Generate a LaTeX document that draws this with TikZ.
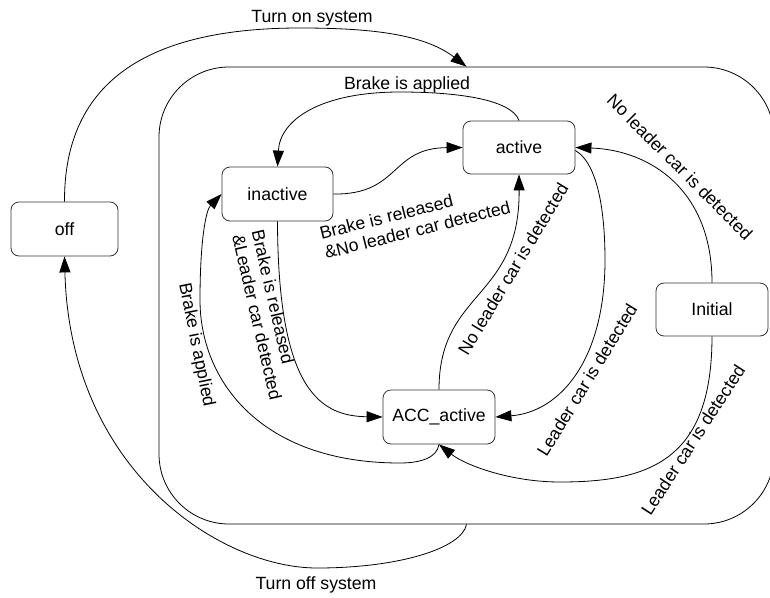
\documentclass[tikz,border=0pt]{standalone}
\usepackage{fontspec}
\setmainfont{Liberation Sans}
\usetikzlibrary{arrows.meta}
\begin{document}
\begin{tikzpicture}[x=1pt,y=1pt,
  every node/.style={font=\fontsize{17.7}{20}\selectfont},
  state/.style={draw=black!80, line width=0.8pt, rounded corners=8pt, minimum width=112pt, minimum height=54pt, inner sep=0pt},
  conn/.style={draw, line width=0.8pt, -{Triangle[length=16pt,width=11pt]}},
  lbl/.style={inner sep=0pt}]
\useasboundingbox (0,0) rectangle (770,-597);
\clip (0,0) rectangle (770,-597);
\node[draw, line width=0.8pt, rounded corners=70pt, minimum width=615pt, minimum height=457pt, inner sep=0pt] (sys) at (466.5,-295.5) {};
\node[state, minimum width=107pt] (off) at (64.5,-229) {off\hspace{21pt}};
\node[state, minimum width=111pt] (inactive) at (277.5,-194) {inactive};
\node[state, minimum height=53pt] (active) at (519,-147.5) {active};
\node[state, minimum height=53pt] (initial) at (712,-309.5) {Initial\hspace{18pt}};
\node[state] (acc) at (439,-417) {ACC\_active};

\draw[conn] (off.north) .. controls (64,-80) and (150,-28) .. (300,-28) .. controls (375,-28) and (425,-35) .. (sys.north);
\draw[conn] (sys.south) .. controls (462,-548) and (400,-568) .. (317,-568) .. controls (220,-568) and (70,-470) .. (off.south);
\draw[conn] (active.north) .. controls (512,-100) and (460,-92) .. (400,-92) .. controls (320,-92) and (280,-120) .. (inactive.north);
\draw[conn] (inactive.east) .. controls (400,-195) and (390,-148) .. (active.west);
\draw[conn] (inactive.south) .. controls (278,-390) and (320,-416) .. (acc.west);
\draw[conn] (acc.south) .. controls (437,-458) and (420,-463) .. (400,-463) .. controls (260,-463) and (200,-380) .. (200,-300) .. controls (200,-240) and (206,-210) .. (inactive.west);
\draw[conn] (acc.north) .. controls (439,-290) and (520,-300) .. (active.south);
\draw[conn] ([yshift=-3pt]active.east) .. controls (600,-165) and (605,-220) .. (605,-260) .. controls (605,-360) and (560,-412) .. (acc.east);
\draw[conn] (initial.north) .. controls (712,-190) and (650,-150) .. (active.east);
\draw[conn] (initial.south) .. controls (712,-460) and (650,-482) .. (560,-482) .. controls (510,-482) and (465,-465) .. (acc.south);

\node[lbl] (l1) at (312,-18) {Turn on system};
\node[lbl] (l2) at (316,-585) {Turn off system};
\node[lbl] (l3) at (407,-85) {Brake is applied};
\node[lbl, rotate=14, align=left] (l4) at (415,-220) {Brake is released\\\&No leader car detected};
\node[lbl, rotate=-77, align=left] (l5) at (267,-315) {Brake is released\\\&Leader car detected};
\node[lbl, rotate=-78.6] (l6) at (196,-345) {Brake is applied};
\node[lbl, rotate=59] (l7) at (513,-269) {No leader car is detected};
\node[lbl, rotate=58.5] (l8) at (587,-380) {Leader car is detected};
\node[lbl, rotate=57] (l9) at (693,-440) {Leader car is detected};
\node[lbl, rotate=-45] (l10) at (680,-167) {No leader car is detected};
\end{tikzpicture}
\end{document}
